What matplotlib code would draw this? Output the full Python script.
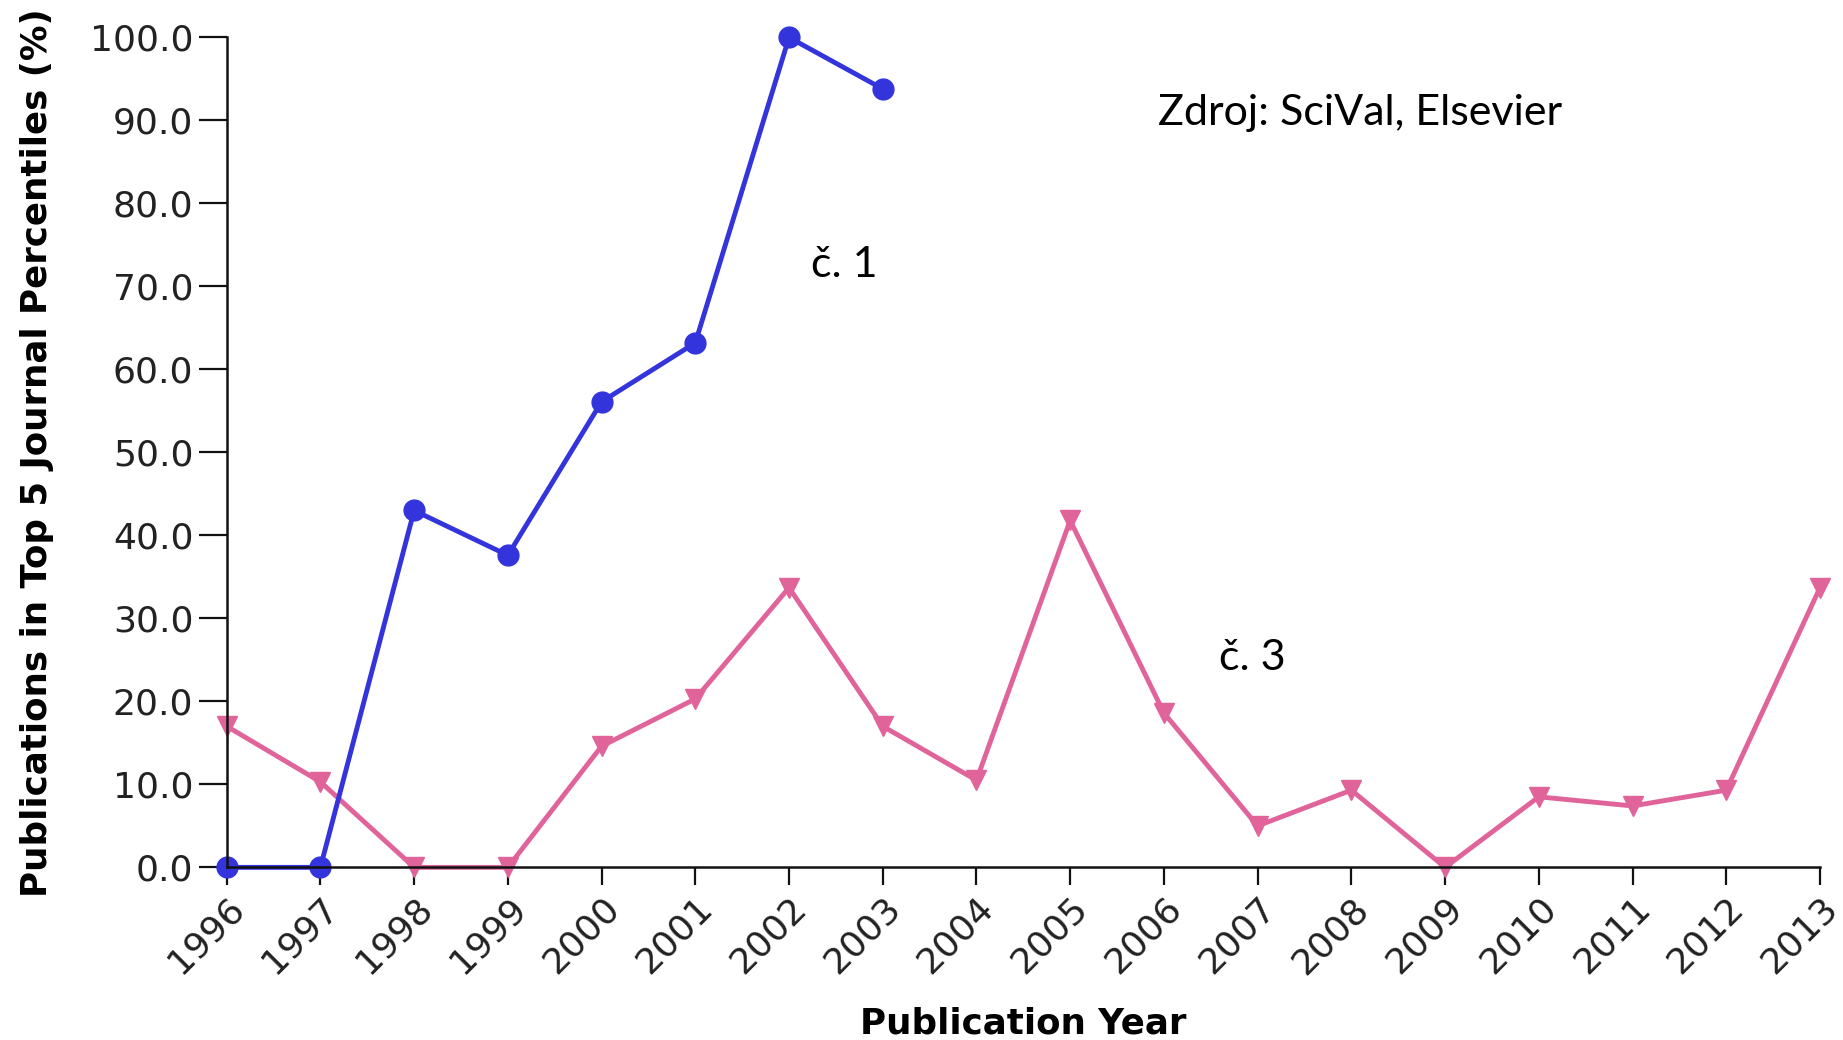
import matplotlib
matplotlib.use("Agg")
import matplotlib.pyplot as plt

plt.rcParams["font.family"] = ["DejaVu Sans"]

years = list(range(1996, 2014))
years_c1 = list(range(1996, 2004))
values_c1 = [0.0, 0.0, 43.0, 37.6, 56.1, 63.2, 100.0, 93.8]
values_c3 = [17.0, 10.3, 0.0, 0.0, 14.6, 20.3, 33.7, 17.0, 10.5, 41.8,
             18.6, 5.0, 9.3, 0.0, 8.5, 7.4, 9.3, 33.7]
y_ticks = [0, 10, 20, 30, 40, 50, 60, 70, 80, 90, 100]

blue = "#3434dc"
pink = "#e0649a"

fig = plt.figure(figsize=(18.43, 10.40), dpi=100)
ax = fig.add_axes([0.123, 0.166, 0.8645, 0.798])

ax.plot(years, values_c3, color=pink, lw=3.5, marker="v", ms=15, clip_on=False, zorder=3)
ax.plot(years_c1, values_c1, color=blue, lw=3.5, marker="o", ms=15, clip_on=False, zorder=4)

ax.set_xlim(1996, 2013)
ax.set_ylim(0, 100)
ax.set_xticks(years)
ax.set_xticklabels([str(y) for y in years], rotation=45, ha="right", rotation_mode="anchor")
ax.set_yticks(y_ticks)
ax.set_yticklabels([f"{v:.1f}" for v in y_ticks])

for s in ["top", "right"]:
    ax.spines[s].set_visible(False)
for s in ["left", "bottom"]:
    ax.spines[s].set_linewidth(1.8)
    ax.spines[s].set_color("#111111")
    ax.spines[s].set_zorder(5)

ax.tick_params(axis="y", length=20, width=1.6, labelsize=26, colors="#111111", labelcolor="#222222", pad=4)
ax.tick_params(axis="x", length=13, width=1.6, labelsize=26, colors="#111111", labelcolor="#222222", pad=4)

ax.set_ylabel("Publications in Top 5 Journal Percentiles (%)", fontsize=25.7, fontweight="bold", labelpad=26)
ax.set_xlabel("Publication Year", fontsize=25.7, fontweight="bold", labelpad=19)

ax.text(0.5845, 0.909, "Zdroj: SciVal, Elsevier", transform=ax.transAxes, fontsize=31, family="Lato", ha="left", va="center")
ax.text(0.3668, 0.726, "č. 1", transform=ax.transAxes, fontsize=31, family="Lato", ha="left", va="center")
ax.text(0.623, 0.252, "č. 3", transform=ax.transAxes, fontsize=31, family="Lato", ha="left", va="center")

fig.savefig("out.png", dpi=100)
